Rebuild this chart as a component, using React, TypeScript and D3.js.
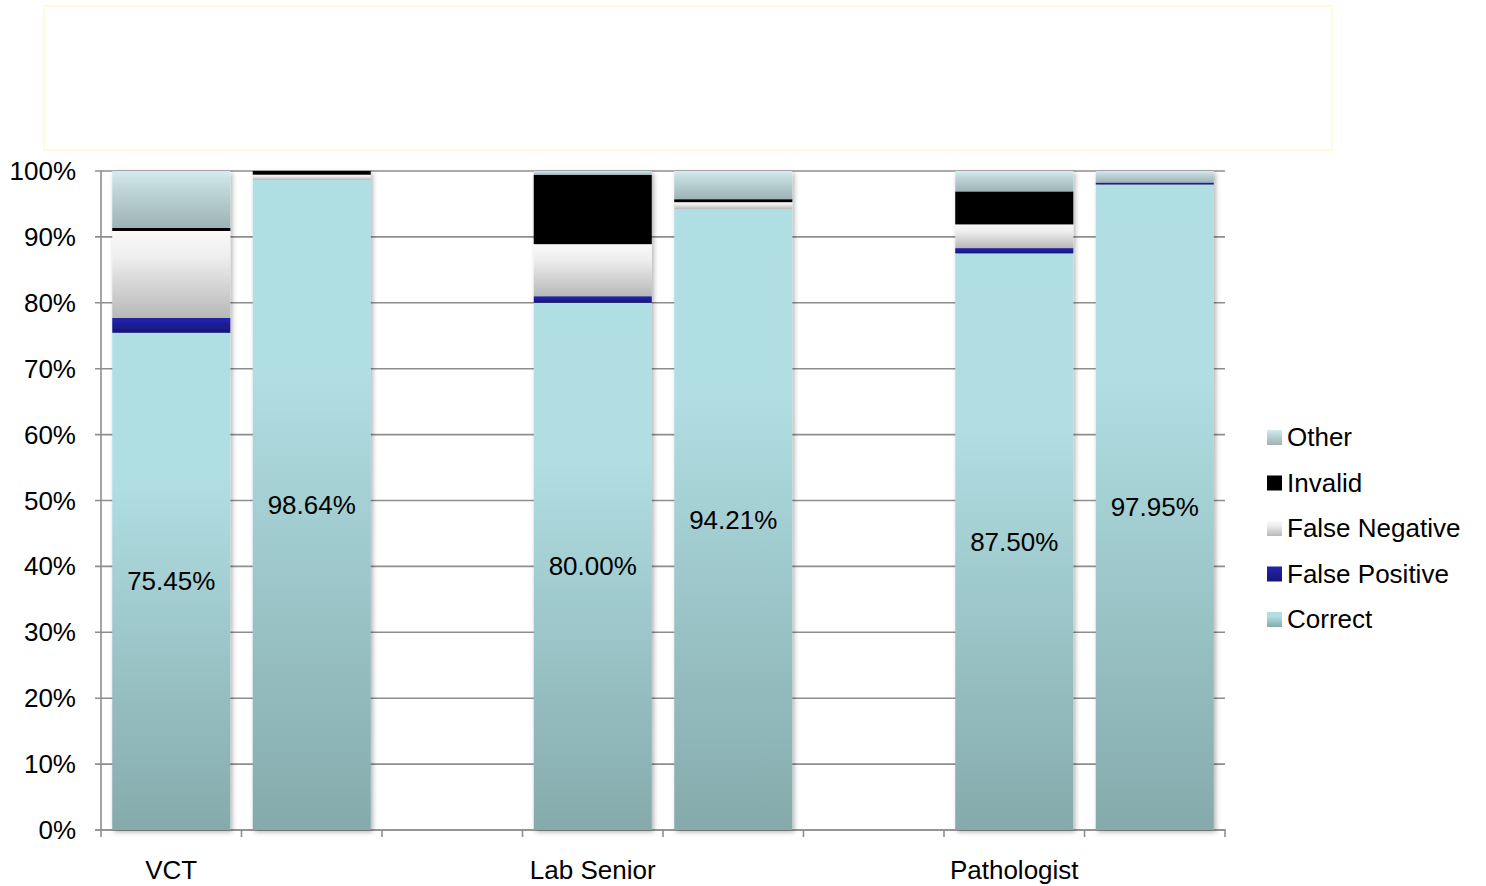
import React from "react";
import * as d3 from "d3";

// Group labels on the x axis and the two bars drawn for each group
const categories = ["VCT", "Lab Senior", "Pathologist"];
const barKeys = ["VCT-1", "VCT-2", "gap-1", "Lab-1", "Lab-2", "gap-2", "Path-1", "Path-2"];
const barsOfCategory = [["VCT-1", "VCT-2"], ["Lab-1", "Lab-2"], ["Path-1", "Path-2"]];

// Series values (percent), one per drawn bar in order of barsOfCategory
const correct = [75.45, 98.64, 80.0, 94.21, 87.5, 97.95];
const falsePositive = [2.27, 0, 1.0, 0, 0.8, 0.3];
const falseNegative = [13.18, 0.8, 7.9, 1.06, 3.6, 0];
const invalid = [0.45, 0.56, 10.5, 0.45, 5.0, 0];
const other = [8.65, 0, 0.6, 4.28, 3.1, 1.75];

const seriesNames = ["Correct", "False Positive", "False Negative", "Invalid", "Other"];
const yTicks = [0, 10, 20, 30, 40, 50, 60, 70, 80, 90, 100];

const W = 1486;
const H = 886;
const FONT = "Liberation Sans, Arial, Helvetica, sans-serif";

const gradients: Record<string, [string, string, string]> = {
  Correct: ["#b0dfe3", "#b0dee2", "#85aaac"],
  "False Positive": ["#2424a8", "#2020a0", "#161678"],
  "False Negative": ["#f9f9f9", "#eeeeee", "#b8b8b8"],
  Invalid: ["#000000", "#000000", "#000000"],
  Other: ["#d5ebee", "#c0d8db", "#9db3b5"],
};

const gradId = (s: string) => "grad-" + s.replace(/\s+/g, "-");

export default function App() {
  const flatBars = barsOfCategory.flat();
  const rows = flatBars.map((key, i) => ({
    key,
    Correct: correct[i],
    "False Positive": falsePositive[i],
    "False Negative": falseNegative[i],
    Invalid: invalid[i],
    Other: other[i],
  }));

  const x = d3.scaleBand<string>().domain(barKeys).range([101, 1225]).paddingInner(0.16).paddingOuter(0.08);
  const y = d3.scaleLinear().domain([0, 100]).range([830, 171]);
  const stack = d3.stack<any>().keys(seriesNames);
  const stacked = stack(rows);
  const step = x.step();
  const slotEdges = d3.range(barKeys.length + 1).map((i) => 101 + i * step);

  const legendOrder = ["Other", "Invalid", "False Negative", "False Positive", "Correct"];

  return (
    <svg width={W} height={H} style={{ position: "absolute", left: 0, top: 0, background: "#fff" }} fontFamily={FONT}>
      <defs>
        {seriesNames.map((s) => (
          <linearGradient key={s} id={gradId(s)} x1="0" y1="0" x2="0" y2="1">
            <stop offset="0" stopColor={gradients[s][0]} />
            <stop offset="0.3" stopColor={gradients[s][1]} />
            <stop offset="1" stopColor={gradients[s][2]} />
          </linearGradient>
        ))}
        <filter id="barShadow" x="-10%" y="-5%" width="125%" height="115%">
          <feDropShadow dx="2" dy="2" stdDeviation="2.5" floodColor="#000" floodOpacity="0.3" />
        </filter>
      </defs>

      {/* empty title frame */}
      <rect x={44} y={6} width={1288} height={144} fill="#fff" stroke="#fefbdc" strokeWidth={2} />

      {/* gridlines */}
      {yTicks.map((t) => (
        <line key={"g" + t} x1={95} x2={1225} y1={y(t)} y2={y(t)} stroke="#8e8e8e" strokeWidth={1.6} />
      ))}

      {/* axes */}
      <line x1={101} x2={101} y1={y(100)} y2={y(0) + 1} stroke="#8e8e8e" strokeWidth={1.6} />
      <line x1={95} x2={1226} y1={y(0)} y2={y(0)} stroke="#8e8e8e" strokeWidth={1.6} />
      {slotEdges.map((ex, i) => (
        <line key={"xt" + i} x1={ex} x2={ex} y1={y(0)} y2={y(0) + 7} stroke="#8e8e8e" strokeWidth={1.6} />
      ))}

      {/* y tick labels */}
      {yTicks.map((t) => (
        <text key={"yl" + t} x={76} y={y(t)} textAnchor="end" dominantBaseline="central" fontSize={26} fill="#000">
          {t + "%"}
        </text>
      ))}

      {/* stacked bars */}
      {rows.map((r, i) => (
        <g key={r.key} filter="url(#barShadow)">
          {stacked.map((layer) => {
            const d = layer[i];
            const h = y(d[0]) - y(d[1]);
            if (h <= 0) return null;
            return (
              <rect
                key={layer.key}
                x={x(r.key)}
                y={y(d[1])}
                width={x.bandwidth()}
                height={h}
                fill={`url(#${gradId(layer.key)})`}
              />
            );
          })}
        </g>
      ))}

      {/* value labels in the Correct segment */}
      {rows.map((r) => (
        <text
          key={"v" + r.key}
          x={(x(r.key) as number) + x.bandwidth() / 2}
          y={y(r.Correct / 2)}
          textAnchor="middle"
          dominantBaseline="central"
          fontSize={26}
          fill="#000"
        >
          {r.Correct.toFixed(2) + "%"}
        </text>
      ))}

      {/* category labels */}
      {categories.map((c, i) => (
        <text
          key={c}
          x={(x(barsOfCategory[i][0]) as number) + x.bandwidth() / 2}
          y={870}
          textAnchor="middle"
          dominantBaseline="central"
          fontSize={26}
          fill="#000"
        >
          {c}
        </text>
      ))}

      {/* legend */}
      {legendOrder.map((s, i) => {
        const cy = 437 + i * 45.5;
        return (
          <g key={"lg" + s}>
            <rect x={1267} y={cy - 7} width={15} height={15} fill={`url(#${gradId(s)})`} />
            <text x={1287} y={cy} dominantBaseline="central" fontSize={26} fill="#000">
              {s}
            </text>
          </g>
        );
      })}
    </svg>
  );
}
